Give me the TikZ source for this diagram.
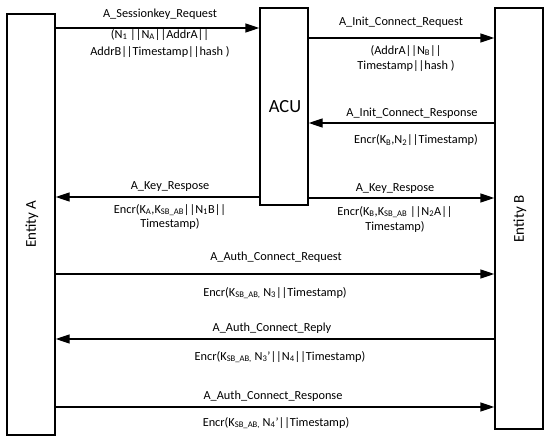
\documentclass[tikz,border=0pt]{standalone}
\usepackage{fontspec}
\setmainfont{Carlito}
\usetikzlibrary{arrows.meta,positioning}
\newcommand{\sbs}[1]{\textsubscript{#1}}
\tikzset{
  party/.style={draw,line width=1.4pt,minimum width=48pt,inner sep=0pt},
  msg/.style={line width=1.4pt,-{Triangle[length=14pt,width=9pt]}},
  lbl/.style={font=\fontsize{12.3}{14}\selectfont,align=center,inner sep=0pt}
}

\begin{document}
\begin{tikzpicture}[x=1pt,y=-1pt]
  \useasboundingbox (0,0) rectangle (550,441);
  % Parties
  \node[party,minimum height=421pt] (entA) at (31,224.5) {};
  \node[party,minimum height=197pt] (acu) at (284,106.5) {};
  \node[party,minimum height=421pt] (entB) at (519,218.5) {};
  \node[font=\fontsize{18.5}{20}\selectfont] (acuname) at (285,107) {ACU};
  \node[font=\fontsize{15}{17}\selectfont,rotate=90] (entAname) at (32,224) {Entity A};
  \node[font=\fontsize{15}{17}\selectfont,rotate=90] (entBname) at (520,219) {Entity B};

  % Session key request
  \draw[msg] (entA.east |- 0,28) -- (acu.west |- 0,28);
  \node[lbl] (sreq) at (160,14) {A\_Sessionkey\_Request};
  \node[lbl,anchor=north] (sreqd) at (160,29) {(N\sbs{1} ||N\sbs{A}||AddrA||\\[3pt]AddrB||Timestamp||hash )};

  % Init connect
  \draw[msg] (acu.east |- 0,38) -- (entB.west |- 0,38);
  \node[lbl] (ireq) at (401,22) {A\_Init\_Connect\_Request};
  \node[lbl,anchor=north] (ireqd) at (406,45) {(AddrA||N\sbs{B}||\\[1pt]Timestamp||hash )};
  \draw[msg] (entB.west |- 0,123) -- (acu.east |- 0,123);
  \node[lbl] (iresp) at (412,113) {A\_Init\_Connect\_Response};
  \node[lbl] (irespd) at (416,140) {Encr(K\sbs{B},N\sbs{2}||Timestamp)};

  % Key response
  \draw[msg] (acu.west |- 0,197) -- (entA.east |- 0,197);
  \node[lbl] (kra) at (170,187) {A\_Key\_Respose};
  \node[lbl,anchor=north] (krad) at (170,204) {Encr(K\sbs{A},K\sbs{SB\_AB}||N\sbs{1}B||\\[0pt]Timestamp)};
  \draw[msg] (acu.east |- 0,198) -- (entB.west |- 0,198);
  \node[lbl] (krb) at (395,189) {A\_Key\_Respose};
  \node[lbl,anchor=north] (krbd) at (395,206) {Encr(K\sbs{B},K\sbs{SB\_AB} ||N\sbs{2}A||\\[1pt]Timestamp)};

  % Authenticated connection
  \draw[msg] (entA.east |- 0,274) -- (entB.west |- 0,274);
  \node[lbl] (areq) at (276,257) {A\_Auth\_Connect\_Request};
  \node[lbl] (areqd) at (275,293) {Encr(K\sbs{SB\_AB,} N\sbs{3}||Timestamp)};
  \draw[msg] (entB.west |- 0,339) -- (entA.east |- 0,339);
  \node[lbl] (arep) at (272,328) {A\_Auth\_Connect\_Reply};
  \node[lbl] (arepd) at (280,357) {Encr(K\sbs{SB\_AB,} N\sbs{3}'||N\sbs{4}||Timestamp)};
  \draw[msg] (entA.east |- 0,407) -- (entB.west |- 0,407);
  \node[lbl] (aresp) at (273,396) {A\_Auth\_Connect\_Response};
  \node[lbl] (arespd) at (276,423) {Encr(K\sbs{SB\_AB,} N\sbs{4}'||Timestamp)};
\end{tikzpicture}
\end{document}
